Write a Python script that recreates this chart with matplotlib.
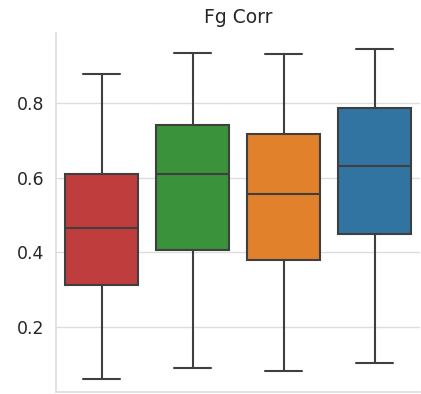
import matplotlib
matplotlib.use("Agg")
import matplotlib.pyplot as plt
import seaborn as sns

# Box statistics
groups = ["A", "B", "C", "D"]
whisker_low = [0.061, 0.090, 0.084, 0.105]
q1 = [0.313, 0.406, 0.379, 0.450]
median = [0.465, 0.609, 0.555, 0.630]
q3 = [0.610, 0.741, 0.717, 0.786]
whisker_high = [0.878, 0.933, 0.931, 0.943]
colors = ["#c03d3e", "#3a923a", "#e1812c", "#3274a1"]
yticks = [0.2, 0.4, 0.6, 0.8]
title = "Fg Corr"

sns.set_style("whitegrid")
plt.rcParams['font.family'] = ['DejaVu Sans']

fig = plt.figure(figsize=(4.21, 3.94), dpi=100)
ax = fig.add_axes([56/421, 2/394, 364/421, 359/394])

stats = []
for i, g in enumerate(groups):
    stats.append(dict(label=g, whislo=whisker_low[i], q1=q1[i], med=median[i],
                      q3=q3[i], whishi=whisker_high[i], fliers=[]))

line_color = "#3f3f3f"
lw = 1.5
bp = ax.bxp(stats, positions=range(len(groups)), widths=0.8, patch_artist=True,
            showfliers=False,
            boxprops=dict(edgecolor=line_color, linewidth=lw),
            medianprops=dict(color=line_color, linewidth=lw),
            whiskerprops=dict(color=line_color, linewidth=lw),
            capprops=dict(color=line_color, linewidth=lw))
for patch, c in zip(bp['boxes'], colors):
    patch.set_facecolor(c)

ax.set_xlim(-0.5, 3.5)
ax.set_ylim(0.0267, 0.9867)
ax.set_yticks(yticks)
ax.set_yticklabels([f"{t:.1f}" for t in yticks])
ax.set_xticks([])
ax.tick_params(axis='y', labelsize=12.5, colors="#262626", pad=8.5, length=0)
ax.grid(axis='y', color="#dddddd", linewidth=1.0)
ax.grid(axis='x', visible=False)
ax.set_axisbelow(True)
for s in ['top', 'right']:
    ax.spines[s].set_visible(False)
for s in ['left', 'bottom']:
    ax.spines[s].set_color("#dddddd")
    ax.spines[s].set_linewidth(1.2)
ax.set_title(title, fontsize=13.5, color="#262626", pad=7)

fig.savefig("out.png", dpi=100)
